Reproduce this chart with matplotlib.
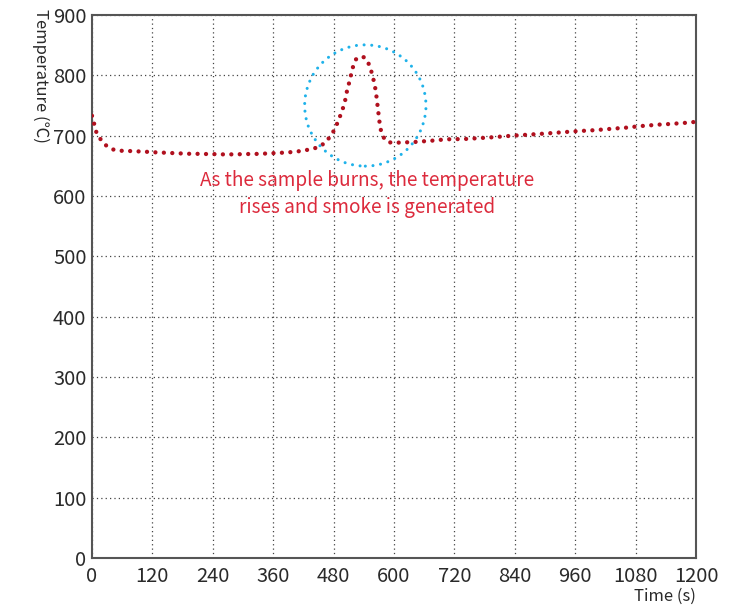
import matplotlib
matplotlib.use("Agg")
import matplotlib.pyplot as plt
from matplotlib.patches import Ellipse

plt.rcParams['font.family'] = ['Noto Sans CJK KR', 'DejaVu Sans']

time_s = [0, 2.6, 4.6, 9.3, 17.9, 29, 43, 57.6, 73, 89, 105, 121, 138, 155, 171, 188, 205,
          221, 238, 254, 270, 287, 304, 320, 337, 354, 370, 401, 418, 438, 453, 465, 475.5,
          483, 489.5, 495, 500, 504, 507, 511, 515, 519, 524.5, 533, 540, 546, 552, 557,
          561, 564, 566, 568, 570, 572, 575.5, 583, 593.5, 609, 625, 641, 658, 675, 691,
          707, 741, 790, 836, 900, 969, 986, 1003, 1019, 1036, 1052, 1069, 1084, 1101, 1117,
          1134, 1150, 1166, 1183, 1200]
temperature = [733, 730.4, 717.7, 704, 693, 683, 676.8, 675, 674.6, 674, 673.5, 672.5, 672,
               671.3, 670.8, 670, 670, 669.6, 669.6, 669, 669, 669, 669.6, 669.6, 670, 670.8,
               671.3, 673, 675, 678, 682, 690, 701, 712, 725, 737, 749, 762, 776, 788, 802,
               815.5, 826.5, 831, 830, 825.5, 815, 800.6, 786.8, 773, 759, 745, 731, 717, 703,
               692, 688.5, 688.5, 689, 689.5, 690.6, 691.7, 693, 694, 694.5, 697, 700, 703.5,
               707.8, 708.4, 709.4, 710.5, 711.6, 712.7, 713.8, 715.5, 716.6, 717.7, 718.8,
               719.4, 720.5, 721.5, 723]

x_ticks = list(range(0, 1201, 120))
y_ticks = list(range(0, 901, 100))

annotation = "As the sample burns, the temperature\nrises and smoke is generated"
circle_center = (543, 750)

fig = plt.figure(figsize=(7.46, 6.07), dpi=100)
ax = fig.add_axes([0.1233, 0.0807, 0.8097, 0.8946])

ax.plot(time_s, temperature, color='#b0101e', lw=3.1,
        linestyle=(0, (0.01, 1.95)), dash_capstyle='round', zorder=3)

ell = Ellipse(circle_center, width=241, height=201, fill=False, edgecolor='#1fb2ea',
              lw=2.2, linestyle=(0, (0.01, 2.5)), capstyle='round', zorder=4)
ax.add_patch(ell)

ax.text(546, 603, annotation, color='#dc2a3c', fontsize=13.7, ha='center',
        va='center', linespacing=1.4, zorder=5)

ax.set_xlim(0, 1200)
ax.set_ylim(0, 900)
ax.set_xticks(x_ticks)
ax.set_yticks(y_ticks)
ax.tick_params(length=0, labelsize=14.5, colors='#2a2a2a')
ax.tick_params(axis='y', pad=4)
ax.tick_params(axis='x', pad=6)
ax.grid(True, color='#444444', linestyle=(0, (1, 2.5)), lw=0.9)
for s in ax.spines.values():
    s.set_color('#555555')
    s.set_linewidth(1.5)

fig.text(0.054, 0.985, 'Temperature (℃)', rotation=270, ha='center', va='top',
         fontsize=12, color='#2a2a2a')
fig.text(0.933, 0.003, 'Time (s)', ha='right', va='bottom', fontsize=12, color='#2a2a2a')

fig.savefig('out.png', dpi=100)
